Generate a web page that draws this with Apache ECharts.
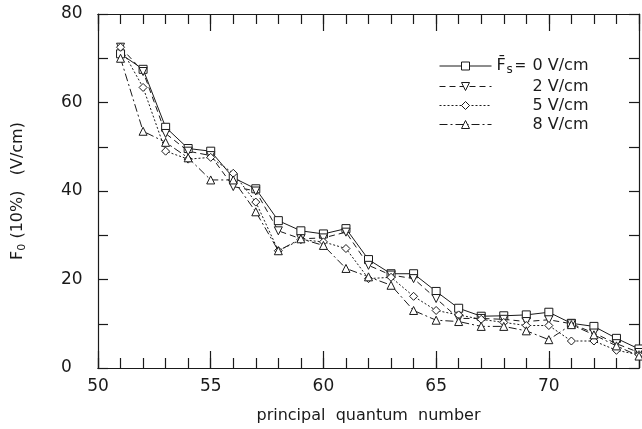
<!DOCTYPE html>
<html>
<head>
<meta charset="utf-8">
<script src="https://cdn.jsdelivr.net/npm/echarts@6/dist/echarts.min.js"></script>
<style>
  html, body { margin: 0; padding: 0; background: #fff; }
  #chart { width: 642px; height: 429px; }
</style>
</head>
<body>
<div id="chart"></div>
<script>
// principal quantum number n
const nValues = [51, 52, 53, 54, 55, 56, 57, 58, 59, 60, 61, 62, 63, 64, 65, 66, 67, 68, 69, 70, 71, 72, 73, 74];
// F0(10%) in V/cm for each static field
const fs0 = [71, 67.5, 54.4, 49.6, 49, 43, 40.5, 33.3, 31, 30.3, 31.5, 24.5, 21.3, 21.3, 17.3, 13.5, 11.7, 11.8, 12, 12.6, 10.1, 9.4, 6.7, 4.3];
const fs2 = [72.5, 67, 53, 49, 48, 41, 40, 31, 29.2, 29.4, 30.7, 23.2, 21, 20.2, 15.7, 11.2, 11.2, 11, 10.5, 10.9, 10, 7.9, 5.5, 3.5];
const fs5 = [72.5, 63.4, 49, 47.2, 47.6, 44, 37.5, 26.5, 29, 28.5, 27, 20.2, 20.5, 16.2, 13, 12, 11, 10.3, 9.6, 9.6, 6.1, 6.1, 4, 3];
const fs8 = [70, 53.5, 51, 47.5, 42.5, 42.5, 35.3, 26.5, 29.2, 27.7, 22.5, 20.6, 18.7, 13, 10.8, 10.5, 9.4, 9.4, 8.4, 6.4, 9.8, 7.5, 5, 2.7];
const seriesNames = ["0 V/cm", "2 V/cm", "5 V/cm", "8 V/cm"];
const yTicks = [0, 20, 40, 60, 80];

const ink = "#1a1a1a";
const font = "DejaVu Sans";

const chart = echarts.init(document.getElementById("chart"));

// common axis look: box lines, inward ticks
const boxAxis = (extra) => Object.assign({
  type: "value",
  axisLine: { show: true, lineStyle: { color: ink, width: 1.2 } },
  axisTick: { show: true, inside: true, length: 10, lineStyle: { color: ink, width: 1.2 } },
  axisLabel: { show: false },
  splitLine: { show: false },
}, extra);

const makeSeries = (name, data, symbol, rotate, dash) => ({
  name: name,
  type: "line",
  data: nValues.map((n, i) => [n, data[i]]),
  symbol: symbol,
  symbolSize: 8,
  symbolRotate: rotate,
  lineStyle: { color: ink, width: 1, type: dash },
  itemStyle: { color: "#fff", borderColor: ink, borderWidth: 1 },
  emphasis: { disabled: true },
  z: 3,
});

const option = {
  animation: false,
  backgroundColor: "#fff",
  textStyle: { fontFamily: font, color: ink },
  grid: { left: 92, right: 1, top: 14, bottom: 59 },
  legend: {
    orient: "vertical",
    left: 434,
    top: 53,
    itemWidth: 52,
    itemHeight: 10,
    itemGap: 3,
    data: seriesNames,
    lineStyle: { width: 1 },
    itemStyle: { borderWidth: 1 },
    formatter: (name) =>
      name === seriesNames[0]
        ? "{f|F\u0304}{s|s}{e|=}" + name
        : "{p|}" + name,
    textStyle: {
      fontFamily: font,
      fontSize: 16,
      color: ink,
      rich: {
        f: { fontFamily: font, fontSize: 16, width: 10, lineHeight: 19 },
        s: { fontFamily: font, fontSize: 12, width: 8, lineHeight: 12, verticalAlign: "bottom" },
        e: { fontFamily: font, fontSize: 14, width: 18, lineHeight: 19 },
        p: { width: 36 },
      },
    },
  },
  xAxis: [
    boxAxis({
      min: 50, max: 74, interval: 1, position: "bottom",
      name: "principal  quantum  number",
      nameLocation: "middle",
      nameGap: 40,
      nameTextStyle: { fontFamily: font, fontSize: 16, color: ink },
      axisLabel: {
        show: true, margin: 10, fontFamily: font, fontSize: 17, color: ink,
        formatter: (v) => (v % 5 === 0 && v < 74 ? String(v) : ""),
      },
    }),
    boxAxis({ min: 50, max: 74, interval: 5, position: "bottom",
      axisTick: { show: true, inside: true, length: 17, lineStyle: { color: ink, width: 1.2 } } }),
    boxAxis({ min: 50, max: 74, interval: 1, position: "top" }),
    boxAxis({ min: 50, max: 74, interval: 5, position: "top",
      axisTick: { show: true, inside: true, length: 17, lineStyle: { color: ink, width: 1.2 } } }),
  ],
  yAxis: [
    boxAxis({
      min: 0, max: 80, interval: 10, position: "left",
      name: "F{sub|0} (10%)   (V/cm)",
      nameLocation: "middle",
      nameGap: 70,
      nameTextStyle: {
        fontFamily: font, fontSize: 16, color: ink, lineHeight: 20,
        rich: { sub: { fontFamily: font, fontSize: 11, lineHeight: 11, verticalAlign: "bottom" } },
      },
      axisLabel: {
        show: true, margin: 37, align: "left", fontFamily: font, fontSize: 17, color: ink,
        formatter: (v) => (yTicks.indexOf(v) >= 0 ? String(v) : ""),
      },
    }),
    boxAxis({ min: 0, max: 80, interval: 10, position: "right" }),
  ],
  series: [
    makeSeries(seriesNames[0], fs0, "rect", 0, "solid"),
    makeSeries(seriesNames[1], fs2, "triangle", 180, [6, 4]),
    makeSeries(seriesNames[2], fs5, "diamond", 0, [2, 2]),
    makeSeries(seriesNames[3], fs8, "triangle", 0, [8, 3, 2, 3]),
  ],
};

chart.setOption(option);
</script>
</body>
</html>
